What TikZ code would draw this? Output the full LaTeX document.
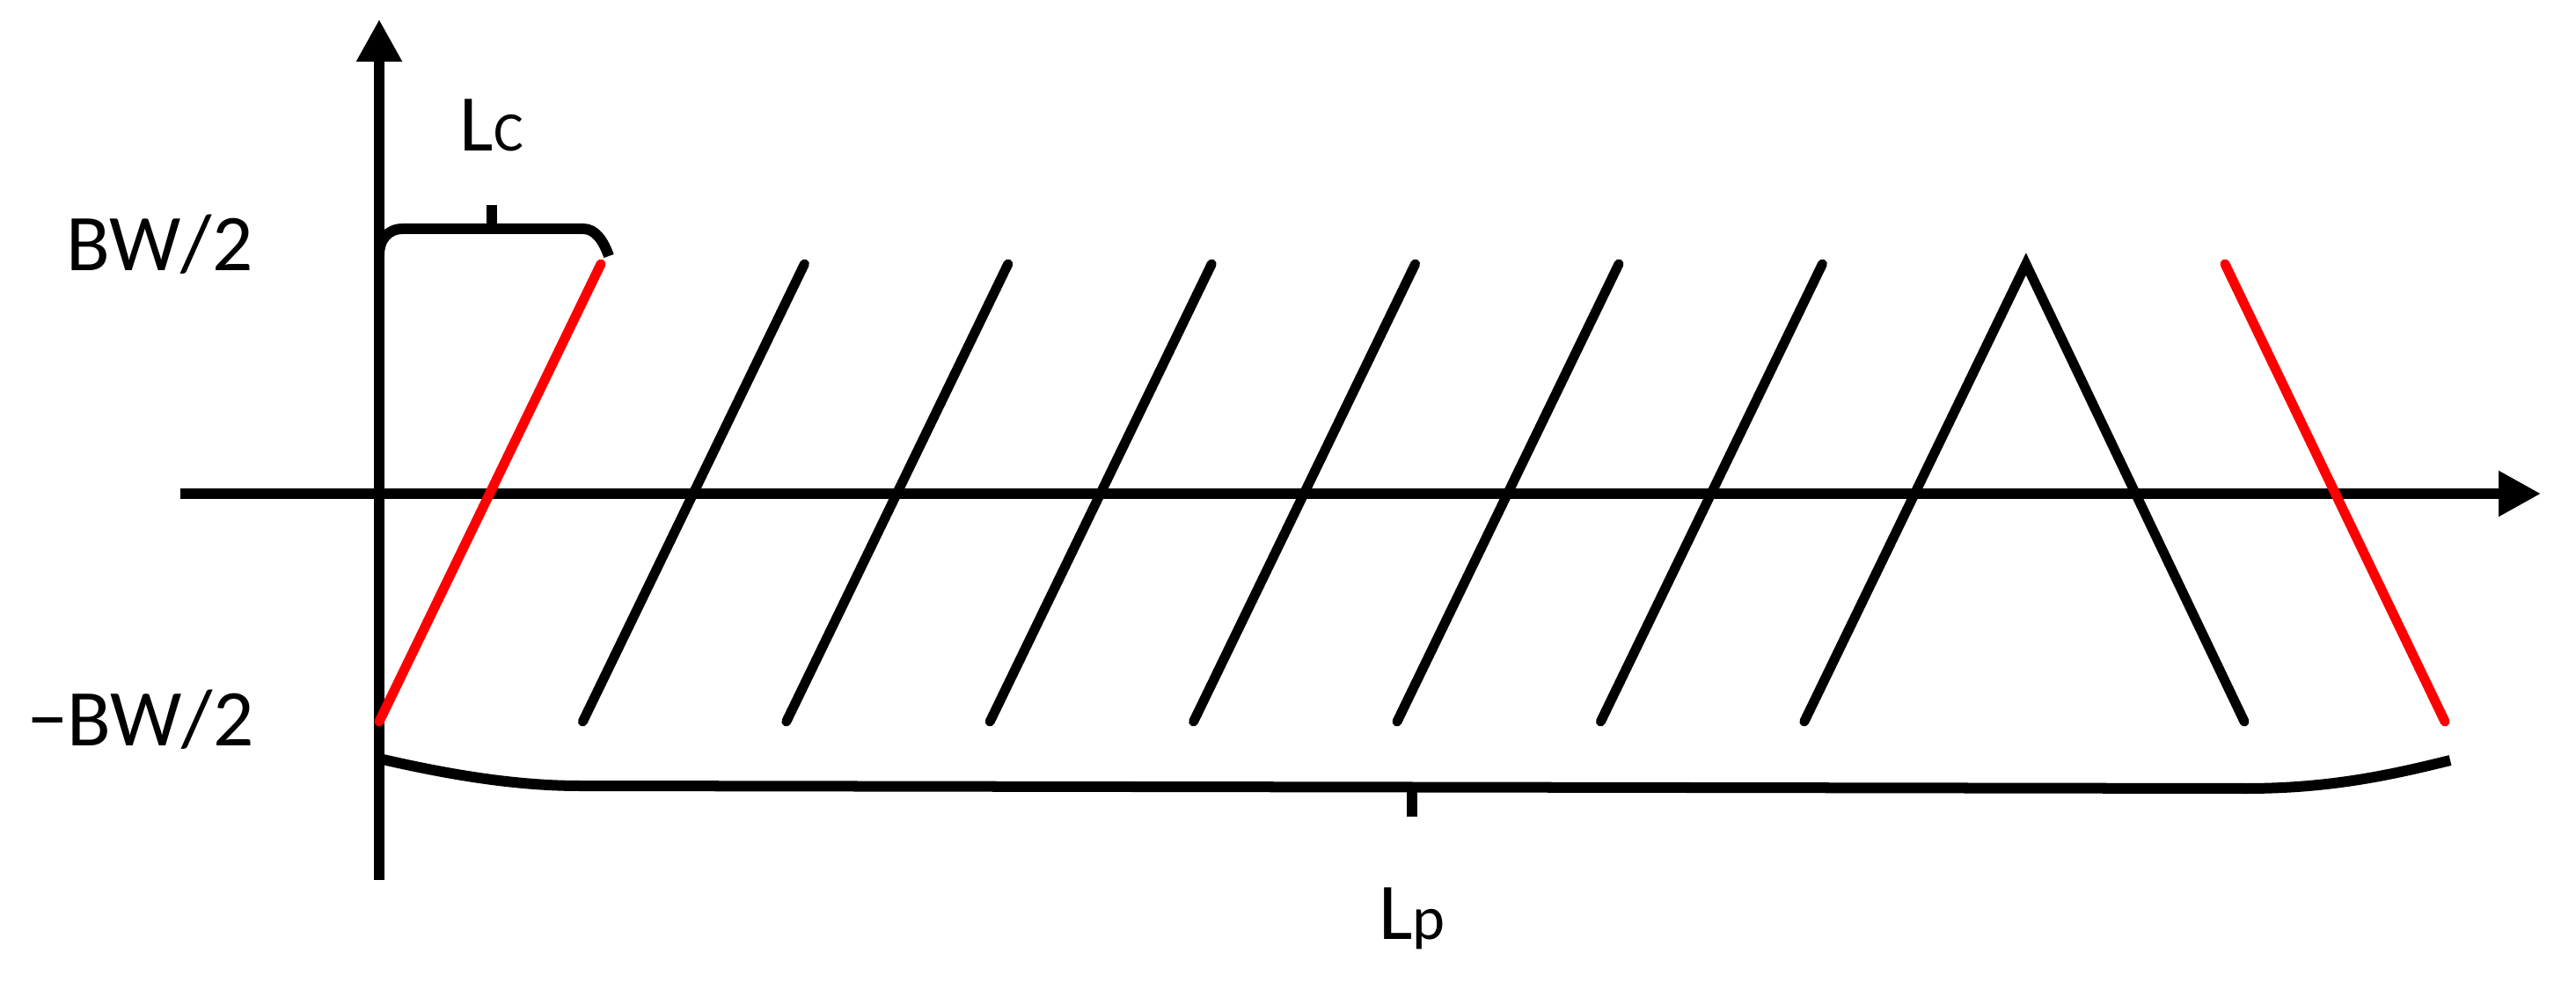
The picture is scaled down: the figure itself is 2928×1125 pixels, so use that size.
\documentclass[tikz,border=0pt]{standalone}
\usepackage{fontspec}
\setmainfont{Carlito}
\usetikzlibrary{arrows.meta}
\begin{document}
\begin{tikzpicture}[x=0.01cm,y=-0.01cm,
  axis/.style={line width=0.115cm, -{Triangle[length=0.48cm,width=0.49cm]}},
  sigblack/.style={line width=0.11cm, line cap=round, black},
  sigred/.style={line width=0.11cm, line cap=round, red},
  bracestyle/.style={line width=0.12cm},
  lbl/.style={inner sep=0pt, font=\fontsize{26}{30}\selectfont}]
\useasboundingbox (0,0) rectangle (2928,1125);

% axes
\coordinate (yb) at (431,1000);
\coordinate (yt) at (431,22);
\coordinate (xl) at (205,561);
\coordinate (xr) at (2888,561);
\draw[axis] (yb) -- (yt);
\draw[axis] (xl) -- (xr);

% ascending lines
\foreach \i in {0,...,7}{
  \coordinate (b\i) at ({431+231.4*\i},820);
  \coordinate (t\i) at ({683+231.4*\i},300);
}
\draw[sigred] (b0) -- (t0);
\foreach \i in {1,...,6}{
  \draw[sigblack] (b\i) -- (t\i);
}
% triangle
\coordinate (d1) at (2551,820);
\draw[sigblack, line join=miter] (b7) -- (t7) -- (d1);
% descending red
\coordinate (rt) at (2529,300);
\coordinate (rb) at (2779,820);
\draw[sigred] (rt) -- (rb);

% Lc brace
\coordinate (lcA) at (431,290);
\coordinate (lcB) at (458,260);
\coordinate (lcC) at (663,260);
\coordinate (lcD) at (692,291);
\coordinate (lcM) at (559,260);
\coordinate (lcT) at (559,233);
\draw[bracestyle] (lcA) .. controls (431,272) and (441,260) .. (lcB) -- (lcC)
   .. controls (677,260) and (686,274) .. (lcD);
\draw[bracestyle] (lcM) -- (lcT);

% Lp brace
\coordinate (lpA) at (431,862);
\coordinate (lpB) at (660,893);
\coordinate (lpC) at (2553,896);
\coordinate (lpD) at (2785,864);
\coordinate (lpM) at (1605,895);
\coordinate (lpT) at (1605,928);
\draw[bracestyle] (lpA) .. controls (530,885) and (600,893) .. (lpB) -- (lpC)
   .. controls (2650,896) and (2720,880) .. (lpD);
\draw[bracestyle] (lpM) -- (lpT);

% labels
\node[lbl, anchor=base east] (bwp) at (288,308) {BW/2};
\node[lbl, anchor=base east] (bwm) at (289,847) {−BW/2};
\node[lbl, anchor=base] (lc) at (559,172) {L{\fontsize{18}{20}\selectfont C}};
\node[lbl, anchor=base] (lp) at (1605,1067) {L{\fontsize{20}{22}\selectfont p}};
\end{tikzpicture}
\end{document}
